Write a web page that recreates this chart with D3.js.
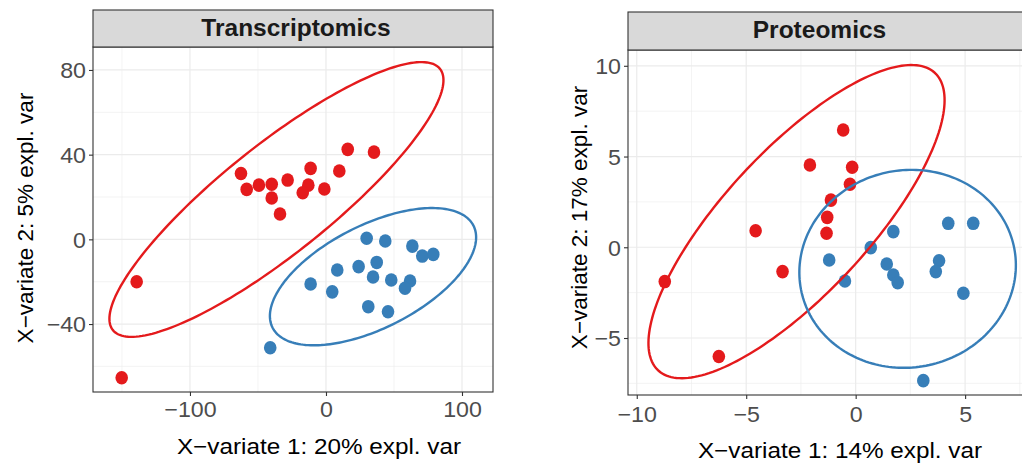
<!DOCTYPE html>
<html>
<head>
<meta charset="utf-8">
<script src="https://cdn.jsdelivr.net/npm/d3@7"></script>
<style>
  body { margin: 0; background: #fff; }
  svg { font-family: "Liberation Sans", Arial, sans-serif; }
</style>
</head>
<body>
<svg id="myCanvas" width="1022" height="465"></svg>
<script>
// Transcriptomics sample scores (component 1, component 2)
const transRed = [
  [-62.5, 31.1], [-58.3, 23.6], [-49.3, 25.6], [-39.9, 26.0], [-39.9, 19.5],
  [-28.2, 28.0], [-11.3, 33.5], [-13.0, 25.6], [-17.1, 22.0], [-1.2, 23.8],
  [9.8, 32.3], [16.0, 42.5], [35.3, 41.2], [-33.8, 12.0], [-139.2, -20.0],
  [-150.2, -65.4]
];
const transBlue = [
  [29.9, 0.5], [43.6, -0.8], [63.5, -3.2], [70.8, -7.9], [78.9, -7.1],
  [8.3, -14.5], [24.0, -12.9], [37.3, -10.9], [34.6, -17.8], [48.0, -19.2],
  [61.8, -19.7], [58.1, -23.1], [-11.3, -21.1], [4.6, -24.8], [31.1, -31.8],
  [45.6, -34.2], [-41.0, -51.2]
];

// Proteomics sample scores
const protRed = [
  [-0.57, 6.46], [-2.09, 4.53], [-0.16, 4.41], [-0.26, 3.47], [-1.13, 2.60],
  [-1.30, 1.65], [-1.33, 0.77], [-4.57, 0.91], [-3.34, -1.34], [-8.72, -1.89],
  [-6.25, -6.02]
];
const protBlue = [
  [4.23, 1.32], [5.37, 1.32], [1.72, 0.86], [0.69, -0.02], [-1.21, -0.70],
  [-0.49, -1.86], [1.42, -0.92], [1.72, -1.53], [1.92, -1.95], [3.81, -0.74],
  [3.66, -1.34], [4.92, -2.53], [3.09, -7.35]
];

// Axis breaks
const transXTicks = [-100, 0, 100];
const transYTicks = [-40, 0, 40, 80];
const protXTicks = [-10, -5, 0, 5];
const protYTicks = [-5, 0, 5, 10];

const groupColors = ["#E41A1C", "#377EB8"];
const ellipseLevel = 0.95;
const hStretch = 1.08; // horizontal text is a bit wider than Liberation Sans

const svg = d3.select("#myCanvas");

// 95% ellipse like ellipse::ellipse(cov, centre, level)
function confEllipse(pts, level, n = 200) {
  const mx = d3.mean(pts, d => d[0]);
  const my = d3.mean(pts, d => d[1]);
  const sx = d3.deviation(pts, d => d[0]);
  const sy = d3.deviation(pts, d => d[1]);
  const cxy = d3.sum(pts, d => (d[0] - mx) * (d[1] - my)) / (pts.length - 1);
  const r = cxy / (sx * sy);
  const dd = Math.acos(r);
  const t = Math.sqrt(-2 * Math.log(1 - level)); // sqrt(qchisq(level, 2))
  return d3.range(n + 1).map(i => {
    const a = 2 * Math.PI * i / n;
    return [mx + t * sx * Math.cos(a + dd / 2), my + t * sy * Math.cos(a - dd / 2)];
  });
}

function minorBreaks(ticks) {
  const step = ticks[1] - ticks[0];
  return d3.range(ticks.length + 1).map(i => ticks[0] - step / 2 + i * step);
}

function drawPanel(cfg) {
  const { left, right, stripTop, top, bottom } = cfg;
  const x = d3.scaleLinear().domain(cfg.xDomain).range([left, right]);
  const y = d3.scaleLinear().domain(cfg.yDomain).range([bottom, top]);

  const clipId = "clip-" + cfg.id;
  svg.append("clipPath").attr("id", clipId)
    .append("rect")
    .attr("x", left).attr("y", top)
    .attr("width", right - left).attr("height", bottom - top);

  const g = svg.append("g");

  // grid
  const grid = g.append("g").attr("clip-path", `url(#${clipId})`);
  grid.selectAll(".mvx").data(minorBreaks(cfg.xTicks)).enter().append("line")
    .attr("x1", d => x(d)).attr("x2", d => x(d))
    .attr("y1", top).attr("y2", bottom)
    .attr("stroke", "#ebebeb").attr("stroke-width", 0.6);
  grid.selectAll(".mhy").data(minorBreaks(cfg.yTicks)).enter().append("line")
    .attr("y1", d => y(d)).attr("y2", d => y(d))
    .attr("x1", left).attr("x2", right)
    .attr("stroke", "#ebebeb").attr("stroke-width", 0.6);
  grid.selectAll(".gx").data(cfg.xTicks).enter().append("line")
    .attr("x1", d => x(d)).attr("x2", d => x(d))
    .attr("y1", top).attr("y2", bottom)
    .attr("stroke", "#ebebeb").attr("stroke-width", 1.2);
  grid.selectAll(".gy").data(cfg.yTicks).enter().append("line")
    .attr("y1", d => y(d)).attr("y2", d => y(d))
    .attr("x1", left).attr("x2", right)
    .attr("stroke", "#ebebeb").attr("stroke-width", 1.2);

  // points + ellipses
  const marks = g.append("g").attr("clip-path", `url(#${clipId})`);
  cfg.groups.forEach((pts, gi) => {
    marks.selectAll(null).data(pts).enter().append("ellipse")
      .attr("cx", d => x(d[0]))
      .attr("cy", d => y(d[1]))
      .attr("rx", 6.3).attr("ry", 6.8)
      .attr("fill", groupColors[gi]);
  });
  cfg.groups.forEach((pts, gi) => {
    marks.append("path")
      .datum(confEllipse(pts, ellipseLevel))
      .attr("d", d3.line().x(d => x(d[0])).y(d => y(d[1])))
      .attr("fill", "none")
      .attr("stroke", groupColors[gi])
      .attr("stroke-width", 2.4);
  });

  // panel border
  g.append("rect")
    .attr("x", left).attr("y", top)
    .attr("width", right - left).attr("height", bottom - top)
    .attr("fill", "none").attr("stroke", "#333").attr("stroke-width", 1.1);

  // strip
  g.append("rect")
    .attr("x", left).attr("y", stripTop)
    .attr("width", right - left).attr("height", top - stripTop)
    .attr("fill", "#d9d9d9").attr("stroke", "#333").attr("stroke-width", 1.1);
  g.append("text")
    .attr("x", cfg.stripX)
    .attr("y", cfg.stripBaseline)
    .attr("text-anchor", "middle")
    .attr("font-size", 24.5).attr("font-weight", "bold")
    .attr("fill", "#1a1a1a")
    .text(cfg.title);

  // axes
  const xAxis = g.append("g")
    .attr("transform", `translate(0,${bottom})`)
    .call(d3.axisBottom(x).tickValues(cfg.xTicks).tickSize(4).tickPadding(4).tickFormat(d3.format("d")));
  const yAxis = g.append("g")
    .attr("transform", `translate(${left},0)`)
    .call(d3.axisLeft(y).tickValues(cfg.yTicks).tickSize(4).tickPadding(3).tickFormat(d3.format("d")));
  [xAxis, yAxis].forEach(a => {
    a.select(".domain").remove();
    a.selectAll(".tick line").attr("stroke", "#333").attr("stroke-width", 1.1);
    a.selectAll(".tick text")
      .attr("fill", "#4d4d4d")
      .attr("font-size", 21.5)
      .attr("font-family", "Liberation Sans, Arial, sans-serif");
  });
  xAxis.selectAll(".tick text")
    .attr("dy", null)
    .attr("y", null)
    .attr("transform", `translate(0,${cfg.xTickBaseline - bottom}) scale(${hStretch},1)`);
  yAxis.selectAll(".tick text")
    .attr("x", null)
    .attr("dy", "0.36em")
    .attr("transform", `translate(-7,0) scale(${hStretch},1)`);

  // axis titles
  g.append("text")
    .attr("transform", `translate(${cfg.xTitleX},${cfg.xTitleY}) scale(${hStretch},1)`)
    .attr("text-anchor", "middle")
    .attr("font-size", 22.5).attr("fill", "#000")
    .text(cfg.xLabel);
  g.append("text")
    .attr("transform", `translate(${cfg.yTitleX},${cfg.yTitleY}) rotate(-90)`)
    .attr("text-anchor", "middle")
    .attr("font-size", 22.5).attr("fill", "#000")
    .text(cfg.yLabel);
}

drawPanel({
  id: "trans", title: "Transcriptomics",
  left: 93, right: 493, stripTop: 10, top: 47, bottom: 392,
  xDomain: [-171.3, 122.8], yDomain: [-72.1, 90.85],
  xTicks: transXTicks, yTicks: transYTicks,
  groups: [transRed, transBlue],
  stripX: 296, stripBaseline: 36, xTickBaseline: 417,
  xLabel: "X\u2212variate 1: 20% expl. var", xTitleX: 319, xTitleY: 454,
  yLabel: "X\u2212variate 2: 5% expl. var", yTitleX: 33, yTitleY: 218
});

drawPanel({
  id: "prot", title: "Proteomics",
  left: 628, right: 1024, stripTop: 12, top: 50, bottom: 395,
  xDomain: [-10.4, 7.69], yDomain: [-8.14, 10.87],
  xTicks: protXTicks, yTicks: protYTicks,
  groups: [protRed, protBlue],
  stripX: 819.5, stripBaseline: 37.5, xTickBaseline: 422,
  xLabel: "X\u2212variate 1: 14% expl. var", xTitleX: 840, xTitleY: 458,
  yLabel: "X\u2212variate 2: 17% expl. var", yTitleX: 587, yTitleY: 217.5
});
</script>
</body>
</html>
